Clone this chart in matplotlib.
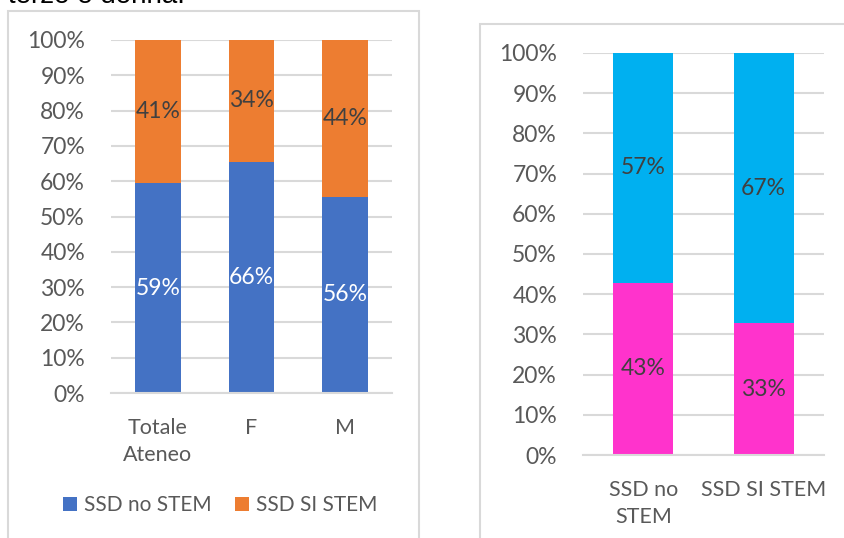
import matplotlib
matplotlib.use("Agg")
import matplotlib.pyplot as plt
from matplotlib.patches import Rectangle
from matplotlib.ticker import PercentFormatter, MultipleLocator

# Data
left_categories = ["Totale\nAteneo", "F", "M"]
left_no_stem = [59.4, 65.5, 55.6]
left_si_stem = [40.6, 34.5, 44.4]

right_categories = ["SSD no\nSTEM", "SSD SI STEM"]
right_women = [42.8, 32.8]
right_men = [57.2, 67.2]

legend_labels = ["SSD no STEM", "SSD SI STEM"]

W, H = 844, 538
plt.rcParams['font.family'] = ['Lato', 'DejaVu Sans']
FS = 15.5
FSN = 16.5
TXT = "#595959"
GRID = "#D9D9D9"

fig = plt.figure(figsize=(W / 100, H / 100), dpi=100)

def fx(px):
    return px / W

def fy(py):
    return 1 - py / H

def pct(vals):
    return [f"{round(v)}%" for v in vals]

# Panel borders
fig.add_artist(Rectangle((fx(8), fy(545)), fx(419) - fx(8), fy(11) - fy(545),
                         transform=fig.transFigure, fill=False, edgecolor="#D9D9D9", lw=1.5))
fig.add_artist(Rectangle((fx(480), fy(545)), fx(860) - fx(480), fy(24) - fy(545),
                         transform=fig.transFigure, fill=False, edgecolor="#D9D9D9", lw=1.5))

# Cut-off text at top
fig.text(fx(8), fy(3), "terzo è donna.", fontsize=20, color="#000000",
         family=['Liberation Sans', 'DejaVu Sans'], va='baseline', ha='left')

def style_axes(ax):
    ax.set_ylim(0, 100)
    ax.yaxis.set_major_locator(MultipleLocator(10))
    ax.yaxis.set_major_formatter(PercentFormatter(decimals=0))
    ax.grid(axis='y', color=GRID, lw=1.5)
    ax.set_axisbelow(True)
    for s in ['top', 'right', 'left']:
        ax.spines[s].set_visible(False)
    ax.spines['bottom'].set_color(GRID)
    ax.spines['bottom'].set_linewidth(1.5)
    ax.tick_params(axis='both', length=0, labelcolor=TXT)
    ax.tick_params(axis='y', pad=18.7, labelsize=FSN)
    ax.tick_params(axis='x', pad=18, labelsize=FS)

# Left chart
axL = fig.add_axes([fx(111), fy(393), fx(392) - fx(111), fy(40) - fy(393)])
xl = range(len(left_categories))
b1 = axL.bar(xl, left_no_stem, width=0.49, color="#4472C4", label=legend_labels[0])
b2 = axL.bar(xl, left_si_stem, width=0.49, bottom=left_no_stem, color="#ED7D31", label=legend_labels[1])
axL.set_xlim(-0.5, len(left_categories) - 0.5)
axL.set_xticks(list(xl))
axL.set_xticklabels(left_categories, linespacing=1.45)
style_axes(axL)
axL.bar_label(b1, labels=pct(left_no_stem), label_type='center', color='white', fontsize=FSN)
axL.bar_label(b2, labels=pct(left_si_stem), label_type='center', color='#404040', fontsize=FSN)
axL.legend(loc='center', bbox_to_anchor=(fx(220), fy(505)), bbox_transform=fig.transFigure,
           ncol=2, frameon=False, fontsize=15, labelcolor=TXT, handlelength=0.68, handleheight=0.68,
           columnspacing=1.1, handletextpad=0.35)

# Right chart
axR = fig.add_axes([fx(583), fy(455), fx(824) - fx(583), fy(53) - fy(455)])
xr = range(len(right_categories))
c1 = axR.bar(xr, right_women, width=0.5, color="#FF33CC")
c2 = axR.bar(xr, right_men, width=0.5, bottom=right_women, color="#00B0F0")
axR.set_xlim(-0.5, len(right_categories) - 0.5)
axR.set_xticks(list(xr))
axR.set_xticklabels(right_categories, linespacing=1.45)
style_axes(axR)
axR.bar_label(c1, labels=pct(right_women), label_type='center', color='#404040', fontsize=FSN)
axR.bar_label(c2, labels=pct(right_men), label_type='center', color='#404040', fontsize=FSN)

fig.savefig("out.png", dpi=100)
